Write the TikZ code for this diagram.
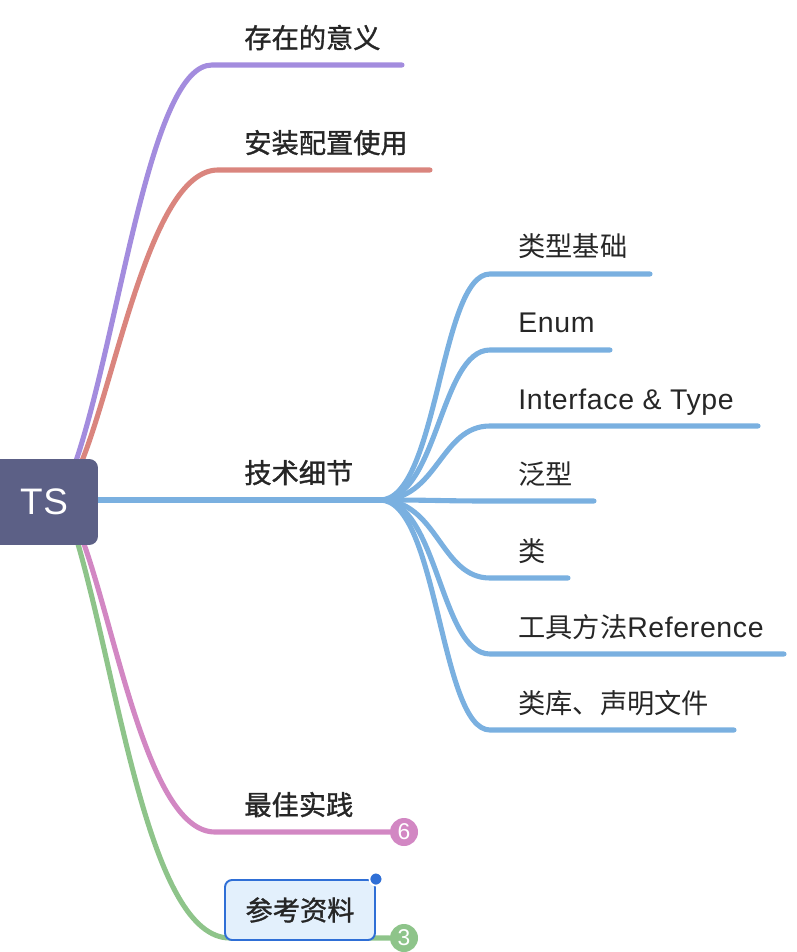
\documentclass[tikz,border=0pt]{standalone}
\usepackage{fontspec}
\setmainfont{Noto Sans CJK SC}
\newfontfamily\mittel[FakeBold=1.2]{Noto Sans CJK SC}
\newfontfamily\latein[LetterSpace=2.2]{Liberation Sans}
\usepackage{xcolor}
\usetikzlibrary{positioning}
\definecolor{tsnavy}{RGB}{92,96,134}
\definecolor{lila}{RGB}{163,140,222}
\definecolor{lachs}{RGB}{218,133,126}
\definecolor{himmel}{RGB}{122,176,224}
\definecolor{rosa}{RGB}{210,135,195}
\definecolor{gruen}{RGB}{142,196,138}
\definecolor{kblau}{RGB}{47,111,214}
\definecolor{khell}{RGB}{227,240,252}
\definecolor{tinte}{RGB}{38,38,38}

\begin{document}
\begin{tikzpicture}[
    x=0.02cm, y=-0.02cm,
    font=\fontsize{15.5}{18}\selectfont,
    zweig/.style={line width=2.9pt, line cap=round},
    etikett/.style={anchor=base west, inner sep=0pt, text=tinte},
    haupt/.style={etikett, font=\fontsize{15.5}{18}\selectfont\mittel},
    badge/.style={circle, minimum size=0.56cm, inner sep=0pt, text=white,
                  font=\fontsize{13}{14}\selectfont\latein},
    kasten/.style={draw=kblau, fill=khell, line width=1.1pt, rounded corners=4pt,
                   minimum width=3cm, minimum height=1.2cm, text=tinte,
                   font=\fontsize{15.5}{18}\selectfont\mittel}
  ]
    \useasboundingbox (0,0) rectangle (796,952);

    % anchor points on the root
    \coordinate (ts-o1) at (76,461);
    \coordinate (ts-o2) at (82,461);
    \coordinate (ts-u1) at (84,544);
    \coordinate (ts-u2) at (78,544);

    % main branches
    \node[haupt] (sinn) at (244,48) {存在的意义};
    \coordinate (sinn-a) at (212,65);
    \coordinate (sinn-e) at (402,65);
    \draw[zweig, lila] (ts-o1) .. controls (120,330) and (150,65) .. (sinn-a) -- (sinn-e);

    \node[haupt] (setup) at (244,153) {安装配置使用};
    \coordinate (setup-a) at (218,170);
    \coordinate (setup-e) at (430,170);
    \draw[zweig, lachs] (ts-o2) .. controls (118,370) and (152,170) .. (setup-a) -- (setup-e);

    \node[haupt] (praxis) at (244,815) {最佳实践};
    \coordinate (praxis-a) at (215,832);
    \node[badge, fill=rosa] (b6) at (404,832) {6};
    \draw[zweig, rosa] (ts-u1) .. controls (118,640) and (150,832) .. (praxis-a) -- (b6);

    \coordinate (quellen-a) at (230,938);
    \node[badge, fill=gruen] (b3) at (404,938) {3};
    \draw[zweig, gruen] (ts-u2) .. controls (120,690) and (150,938) .. (quellen-a) -- (b3);

    \node[haupt] (technik) at (244,483) {技术细节};
    \coordinate (technik-e) at (380,500);
    \draw[zweig, himmel] (ts-u1 |- technik-e) -- (technik-e);

    % children of 技术细节
    \foreach \n/\y/\xe/\txt in {1/274/650/类型基础, 2/350/610/{\latein\fontsize{16.2}{18}\selectfont Enum},
        3/426/758/{\latein\fontsize{16.2}{18}\selectfont Interface \& Type}, 4/501/594/泛型, 5/578/568/类,
        6/654/784/{工具方法{\latein\fontsize{16.2}{18}\selectfont Reference}}, 7/730/734/类库、声明文件} {
      \node[etikett] (kind\n) at (518,\y-17) {\txt};
      \coordinate (kind\n-a) at (490,\y);
      \coordinate (kind\n-e) at (\xe,\y);
      \draw[zweig, himmel] (technik-e) .. controls (438,500) and (440,\y) .. (kind\n-a) -- (kind\n-e);
    }

    % root and note box on top
    \node[fill=tsnavy, rounded corners=5pt, minimum width=2.16cm, minimum height=1.72cm,
          text=white, font=\fontsize{21}{24}\selectfont\latein] (ts) at (44,502) {TS};
    \node[kasten] (quellen) at (300,910) {参考资料};
    \node[circle, fill=kblau, draw=white, line width=1pt, minimum size=0.26cm,
          inner sep=0pt] (punkt) at (quellen.north east) {};
  \end{tikzpicture}
\end{document}
